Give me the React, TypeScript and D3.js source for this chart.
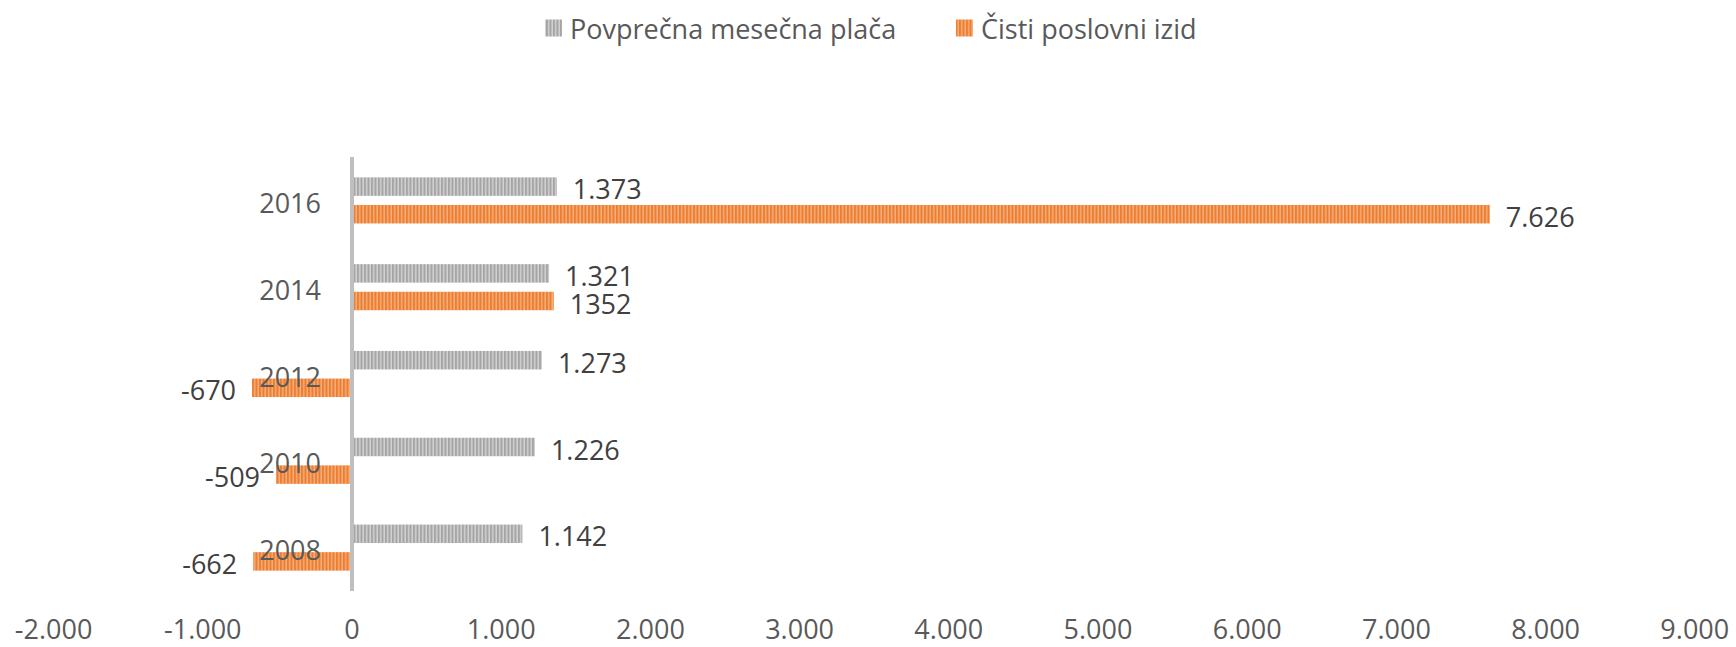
import React from "react";
import * as d3 from "d3";

const years = ["2016", "2014", "2012", "2010", "2008"];
const placa = [1373, 1321, 1273, 1226, 1142];
const izid = [7626, 1352, -670, -509, -662];
const placaLabels = ["1.373", "1.321", "1.273", "1.226", "1.142"];
const izidLabels = ["7.626", "1352", "-670", "-509", "-662"];
const seriesNames = ["Povprečna mesečna plača", "Čisti poslovni izid"];
const xTicks = [-2000, -1000, 0, 1000, 2000, 3000, 4000, 5000, 6000, 7000, 8000, 9000];

const W = 1736;
const H = 647;
const FONT = "'Open Sans', 'Noto Sans', sans-serif";

const fmt = (v: number) =>
  v === 0 ? "0" : d3.format(",")(v).replace(/,/g, ".").replace(/\u2212/g, "-");

export default function App() {
  const x = d3.scaleLinear().domain([-2000, 9000]).range([352 - 2 * 149.2, 352 + 9 * 149.2]);
  const y = d3.scaleBand().domain(years).range([157, 591]).padding(0);
  const sub = d3
    .scaleBand()
    .domain(seriesNames)
    .range([y.bandwidth() / 2 - 27.6, y.bandwidth() / 2 + 27.6])
    .paddingInner(0.33)
    .paddingOuter(0.165);
  const barH = sub.bandwidth();

  const series = [
    { name: seriesNames[0], values: placa, labels: placaLabels, fill: "url(#patGray)" },
    { name: seriesNames[1], values: izid, labels: izidLabels, fill: "url(#patOrange)" },
  ];

  const legend = [
    { name: seriesNames[0], mx: 545, tx: 570, fill: "url(#patGray)" },
    { name: seriesNames[1], mx: 956, tx: 981, fill: "url(#patOrange)" },
  ];

  return (
    <svg width={W} height={H} style={{ position: "absolute", left: 0, top: 0, display: "block" }}>
      <defs>
        <pattern id="patGray" patternUnits="userSpaceOnUse" width={3.5} height={10}>
          <rect x={0} y={0} width={3.5} height={10} fill="#d2d2d2" />
          <rect x={0} y={0} width={2} height={10} fill="#a5a5a5" />
        </pattern>
        <pattern id="patOrange" patternUnits="userSpaceOnUse" width={3.5} height={10}>
          <rect x={0} y={0} width={3.5} height={10} fill="#f6ae7a" />
          <rect x={0} y={0} width={2} height={10} fill="#ed7d31" />
        </pattern>
      </defs>
      <rect width={W} height={H} fill="#ffffff" />

      {legend.map((l) => (
        <g key={l.name}>
          <rect x={l.mx} y={19.5} width={17} height={17} fill={l.fill} />
          <text
            x={l.tx}
            y={28}
            dominantBaseline="central"
            fontFamily={FONT}
            fontSize={27}
            fill="#595959"
          >
            {l.name}
          </text>
        </g>
      ))}

      {series.map((s) =>
        years.map((yr, i) => {
          const v = s.values[i];
          const x0 = x(Math.min(0, v));
          const x1 = x(Math.max(0, v));
          const by = (y(yr) as number) + (sub(s.name) as number);
          return (
            <rect
              key={s.name + yr}
              x={x0}
              y={by}
              width={x1 - x0}
              height={barH}
              fill={s.fill}
            />
          );
        })
      )}

      <line x1={x(0)} x2={x(0)} y1={157} y2={591} stroke="#bfbfbf" strokeWidth={4} />

      {series.map((s) =>
        years.map((yr, i) => {
          const v = s.values[i];
          const by = (y(yr) as number) + (sub(s.name) as number) + barH / 2;
          const pos = v >= 0;
          return (
            <text
              key={"l" + s.name + yr}
              x={pos ? x(v) + 16 : x(v) - 16}
              y={by + 2}
              textAnchor={pos ? "start" : "end"}
              dominantBaseline="central"
              fontFamily={FONT}
              fontSize={27}
              fill="#404040"
            >
              {s.labels[i]}
            </text>
          );
        })
      )}

      {years.map((yr) => (
        <text
          key={"c" + yr}
          x={321}
          y={(y(yr) as number) + y.bandwidth() / 2 + 2}
          textAnchor="end"
          dominantBaseline="central"
          fontFamily={FONT}
          fontSize={27}
          fill="#595959"
        >
          {yr}
        </text>
      ))}

      {xTicks.map((t) => (
        <text
          key={"x" + t}
          x={x(t)}
          y={628}
          textAnchor="middle"
          dominantBaseline="central"
          fontFamily={FONT}
          fontSize={27}
          fill="#595959"
        >
          {fmt(t)}
        </text>
      ))}
    </svg>
  );
}
